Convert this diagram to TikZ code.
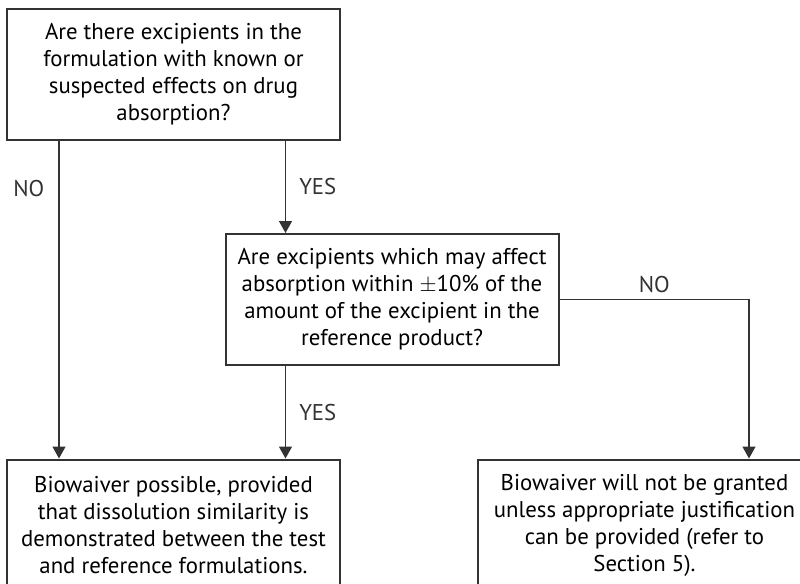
\documentclass[tikz,border=0pt]{standalone}
\usepackage{fontspec}
\setmainfont{PT Sans}
\usetikzlibrary{arrows.meta, positioning}
\definecolor{linegray}{HTML}{333333}

\begin{document}
\begin{tikzpicture}[
            question/.style={rectangle, draw=linegray, line width=1pt, fill=white,
                             minimum width=166.5pt, minimum height=65.5pt, inner sep=0pt,
                             align=center, font=\fontsize{11.4}{13.5}\selectfont},
            outcome/.style ={question},
            lbl/.style     ={inner sep=0pt, font=\fontsize{11.4}{13.5}\selectfont},
            arr/.style     ={-{Triangle[length=6pt, width=6.5pt]}, line width=0.75pt, linegray}
        ]
            \useasboundingbox (0,0) rectangle (400pt,-292pt);
            \clip (0,0) rectangle (400pt,-292pt);

            % --- Preguntas ---
            \node[question] (excip) at (86.75pt,-37.25pt)
                {Are there excipients in the\\ formulation with known or\\ suspected effects on drug\\ absorption?};
            \node[question, below=46pt of excip, xshift=109.25pt] (amount)
                {Are excipients which may affect\\ absorption within $\pm$10\% of the\\ amount of the excipient in the\\ reference product?};

            % --- Resultados ---
            \node[outcome, below=158.75pt of excip] (possible)
                {Biowaiver possible, provided\\ that dissolution similarity is\\ demonstrated between the test\\ and reference formulations.};
            \node[outcome, right=68pt of possible] (notgranted)
                {Biowaiver will not be granted\\ unless appropriate justification\\ can be provided (refer to\\ Section 5).};

            \coordinate (yesx) at ([xshift=30.5pt]amount.north west);
            \coordinate (nox)  at ([xshift=136pt]notgranted.north west);

            % --- Enlaces ---
            \draw[arr] ([xshift=26.5pt]excip.south west) -- node[lbl, pos=0.15, left=7pt]{NO} ([xshift=26.5pt]possible.north west);
            \draw[arr] (excip.south -| yesx) -- node[lbl, right=6.5pt]{YES} (yesx);
            \draw[arr] (amount.south -| yesx) -- node[lbl, right=6.5pt]{YES} (possible.north -| yesx);
            \draw[arr] (amount.east) -- node[lbl, above=3pt]{NO} (amount.east -| nox) -- (nox);
        \end{tikzpicture}
\end{document}
